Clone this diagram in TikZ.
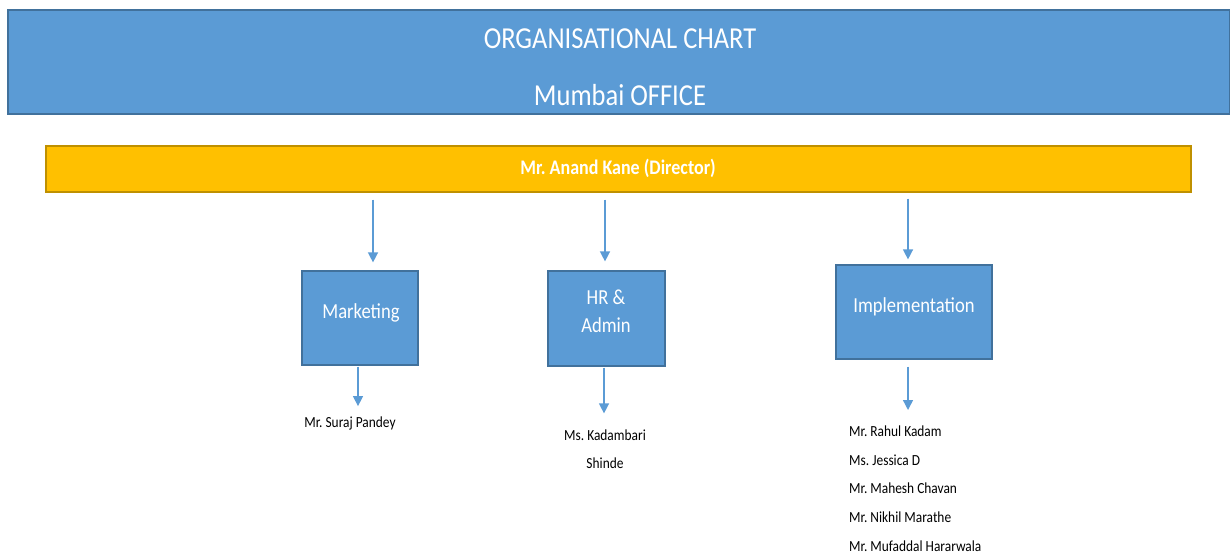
\documentclass[tikz,border=0pt]{standalone}
\usepackage{fontspec}
\setmainfont{Carlito}
\frenchspacing
\usetikzlibrary{arrows.meta}
\definecolor{boxblue}{HTML}{5B9BD5}
\definecolor{boxedge}{HTML}{41719C}
\definecolor{baryellow}{HTML}{FFC000}
\definecolor{baredge}{HTML}{BF9000}

\begin{document}
\begin{tikzpicture}[x=1pt, y=-1pt, >={Triangle[length=10pt,width=10pt]},
  tall/.style={yscale=1.15},
  deptbox/.style={draw=boxedge, fill=boxblue, line width=1.2pt, inner sep=0pt},
  depttext/.style={tall, text=white, align=center, inner sep=0pt, font=\fontsize{18.6}{24.3}\selectfont},
  staff/.style={tall, inner sep=0pt, font=\fontsize{13.4}{24.8}\selectfont},
  arr/.style={->, draw=boxblue, line width=1.4pt}]
  \useasboundingbox (0,0) rectangle (1230,554);
  % header
  \node[deptbox, minimum width=1222pt, minimum height=104pt] (head) at (619,62) {};
  \node[tall, text=white, inner sep=0pt, font=\fontsize{26.5}{30}\selectfont] (title) at (620,39) {ORGANISATIONAL CHART};
  \node[tall, text=white, inner sep=0pt, font=\fontsize{26.5}{30}\selectfont] (office) at (620,95) {Mumbai OFFICE};
  % director
  \node[draw=baredge, fill=baryellow, line width=1.2pt, minimum width=1145pt, minimum height=46pt] (dir) at (618.5,169) {};
  \node[tall, text=white, inner sep=0pt, font=\bfseries\fontsize{18}{20}\selectfont] (dirtext) at (618,168) {Mr. Anand Kane (Director)};
  % departments
  \node[deptbox, minimum width=116pt, minimum height=94pt] (mkt) at (360,318) {};
  \node[depttext] (mkttext) at (361,313) {Marketing};
  \node[deptbox, minimum width=117pt, minimum height=95pt] (hr) at (606.5,318.5) {};
  \node[depttext] (hrtext) at (606,311) {HR \&\\Admin};
  \node[deptbox, minimum width=156pt, minimum height=94pt] (impl) at (914,312) {};
  \node[depttext] (impltext) at (914,307) {Implementation};
  % staff
  \node[staff] (mktstaff) at (350,423) {Mr. Suraj Pandey};
  \node[staff, align=center, font=\fontsize{13.4}{24.3}\selectfont] (hrstaff) at (605,449) {Ms. Kadambari\\Shinde};
  \node[staff, align=left, anchor=north west] (implstaff) at (849,426)
    {Mr. Rahul Kadam\\Ms. Jessica D\\Mr. Mahesh Chavan\\Mr. Nikhil Marathe\\Mr. Mufaddal Hararwala};
  % arrow columns
  \coordinate (c1) at (373,0);
  \coordinate (c2) at (605,0);
  \coordinate (c3) at (908,0);
  \coordinate (d1) at (358,0);
  \coordinate (d2) at (604,0);
  \coordinate (d3) at (908,0);
  \draw[arr, shorten <=7pt, shorten >=8pt] (dir.south -| c1) -- (mkt.north -| c1);
  \draw[arr, shorten <=7pt, shorten >=9pt] (dir.south -| c2) -- (hr.north -| c2);
  \draw[arr, shorten <=6pt, shorten >=5pt] (dir.south -| c3) -- (impl.north -| c3);
  \draw[arr, shorten <=1pt, shorten >=10pt] (mkt.south -| d1) -- (mktstaff.north -| d1);
  \draw[arr, shorten <=1pt, shorten >=16pt] (hr.south -| d2) -- (hrstaff.north -| d2);
  \draw[arr, shorten <=7pt, shorten >=16pt] (impl.south -| d3) -- (implstaff.north -| d3);
\end{tikzpicture}
\end{document}
